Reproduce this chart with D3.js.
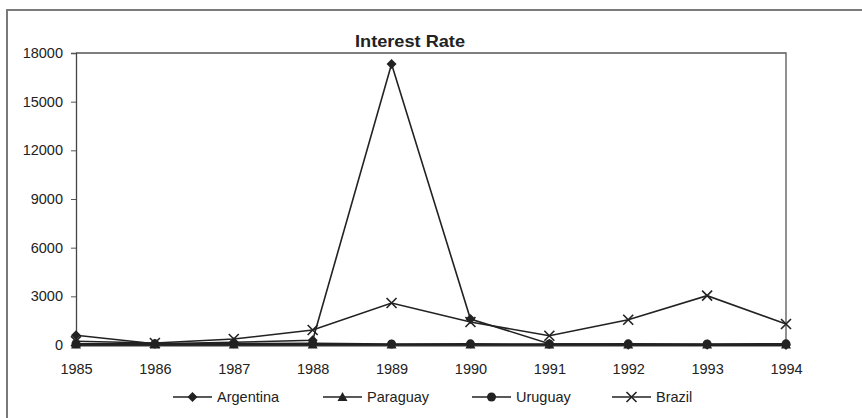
<!DOCTYPE html>
<html>
<head>
<meta charset="utf-8">
<script src="https://cdn.jsdelivr.net/npm/d3@7"></script>
<style>
  html, body { margin: 0; padding: 0; background: #fff; }
  svg { display: block; font-family: "Liberation Sans", Arial, sans-serif; }
</style>
</head>
<body>
<svg id="chart" width="862" height="418"></svg>
<script>
const years = [1985, 1986, 1987, 1988, 1989, 1990, 1991, 1992, 1993, 1994];
const argentina = [600, 80, 170, 290, 17320, 1600, 80, 20, 10, 5];
const paraguay  = [25, 25, 30, 30, 30, 30, 30, 30, 30, 30];
const uruguay   = [80, 70, 80, 110, 60, 70, 60, 70, 60, 70];
const brazil    = [230, 120, 370, 925, 2590, 1420, 570, 1560, 3040, 1295];
const yTicks = [0, 3000, 6000, 9000, 12000, 15000, 18000];
const seriesNames = ["Argentina", "Paraguay", "Uruguay", "Brazil"];
const seriesValues = [argentina, paraguay, uruguay, brazil];
const seriesShapes = ["diamond", "triangle", "circle", "cross"];

const svg = d3.select("#chart");
const ink = "#222";

// outer frame (extends beyond image at right/bottom)
svg.append("path")
  .attr("d", "M7,430 L7,10 L875,10")
  .attr("fill", "none").attr("stroke", "#7a7a7a").attr("stroke-width", 2);

const x = d3.scalePoint().domain(years).range([76, 786]).padding(0);
const y = d3.scaleLinear().domain([0, 18000]).range([345, 53]);

// plot area box (top and right)
svg.append("path")
  .attr("d", `M${x(1985)},${y(18000)} L${x(1994)},${y(18000)} L${x(1994)},${y(0)}`)
  .attr("fill", "none").attr("stroke", "#555").attr("stroke-width", 1.3);

// y axis
const yAxis = svg.append("g").attr("transform", `translate(${x(1985)},0)`)
  .call(d3.axisLeft(y).tickValues(yTicks).tickSize(5).tickPadding(8).tickFormat(d3.format("d")));
yAxis.select(".domain").attr("stroke", "#444").attr("stroke-width", 1.3);
yAxis.selectAll(".tick line").attr("stroke", "#555");
yAxis.selectAll("text").attr("font-size", 14.5).attr("fill", "#222");

// x axis
const xAxis = svg.append("g").attr("transform", `translate(0,${y(0)})`)
  .call(d3.axisBottom(x).tickSize(0).tickPadding(19).tickFormat(d3.format("d")));
xAxis.select(".domain").attr("stroke", "#333").attr("stroke-width", 2);
xAxis.selectAll("text").attr("font-size", 14.5).attr("fill", "#222");

// title
svg.append("text")
  .attr("x", 410).attr("y", 47)
  .attr("text-anchor", "middle")
  .attr("font-size", 16.5).attr("font-weight", "bold").attr("fill", "#222")
  .attr("textLength", 110).attr("lengthAdjust", "spacingAndGlyphs")
  .text("Interest Rate");

function drawMarker(g, shape, cx, cy) {
  if (shape === "diamond") {
    g.append("path").attr("d", `M${cx},${cy-5} L${cx+5},${cy} L${cx},${cy+5} L${cx-5},${cy} Z`).attr("fill", ink);
  } else if (shape === "triangle") {
    g.append("path").attr("d", `M${cx},${cy-5} L${cx+5},${cy+4} L${cx-5},${cy+4} Z`).attr("fill", ink);
  } else if (shape === "circle") {
    g.append("circle").attr("cx", cx).attr("cy", cy).attr("r", 4.5).attr("fill", ink);
  } else {
    g.append("path").attr("d", `M${cx-5},${cy-5} L${cx+5},${cy+5} M${cx+5},${cy-5} L${cx-5},${cy+5}`)
      .attr("stroke", ink).attr("stroke-width", 1.6);
  }
}

const line = d3.line().x((d, i) => x(years[i])).y(d => y(d));

seriesValues.forEach((vals, si) => {
  const g = svg.append("g");
  g.append("path").datum(vals).attr("d", line)
    .attr("fill", "none").attr("stroke", ink).attr("stroke-width", 1.6);
  vals.forEach((v, i) => drawMarker(g, seriesShapes[si], x(years[i]), y(v)));
});

// legend
const legendX = [173, 323, 472, 612];
const legendY = 397;
seriesNames.forEach((name, i) => {
  const g = svg.append("g");
  g.append("line").attr("x1", legendX[i]).attr("x2", legendX[i] + 39)
    .attr("y1", legendY).attr("y2", legendY).attr("stroke", ink).attr("stroke-width", 1.6);
  drawMarker(g, seriesShapes[i], legendX[i] + 19.5, legendY);
  g.append("text").attr("x", legendX[i] + 44).attr("y", legendY + 5)
    .attr("font-size", 14.5).attr("fill", "#222").text(name);
});
</script>
</body>
</html>
